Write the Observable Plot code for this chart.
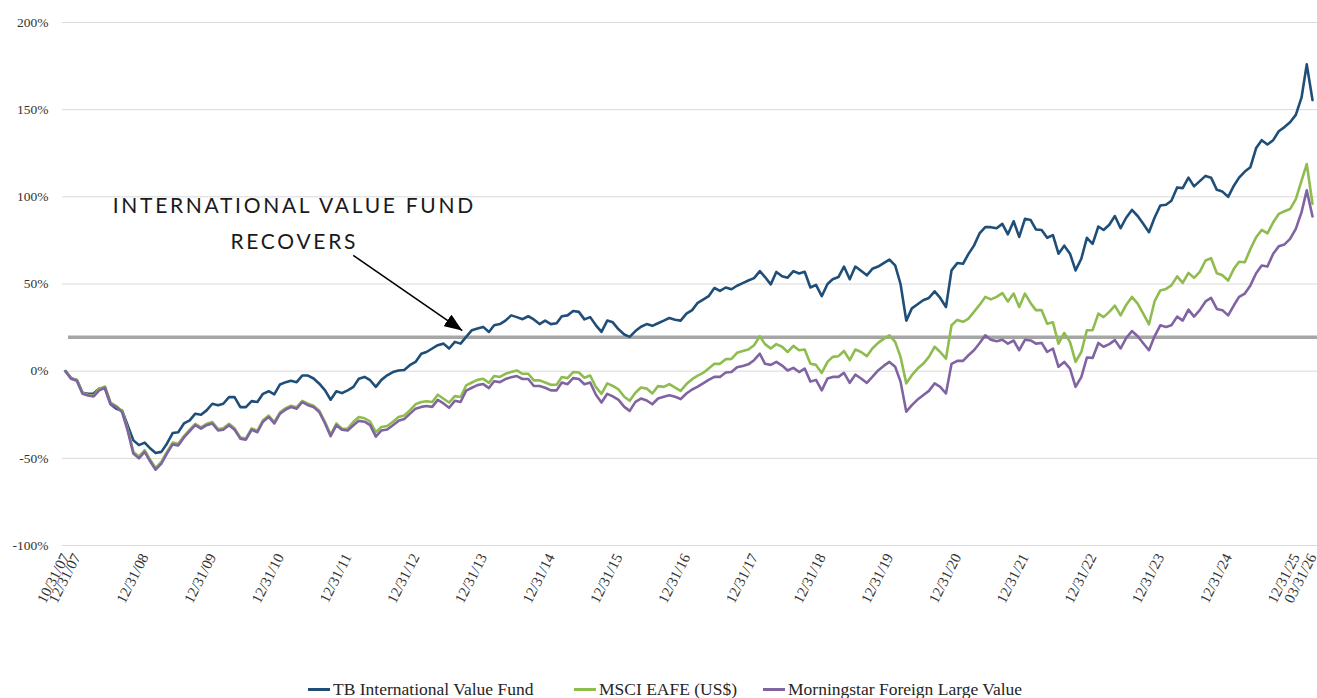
<!DOCTYPE html>
<html>
<head>
<meta charset="utf-8">
<script src="https://cdn.jsdelivr.net/npm/d3@7"></script>
<script src="https://cdn.jsdelivr.net/npm/@observablehq/plot@0.6"></script>
<style>
  body { margin: 0; background: #ffffff; }
  #wrap { position: relative; width: 1317px; height: 698px; overflow: hidden; }
  #legend { position: absolute; left: 0; top: 679px; width: 1317px; height: 20px;
            font-family: "Liberation Serif", serif; font-size: 17.5px; color: #262626; }
  #legend .item { position: absolute; top: 0; height: 20px; display: flex; align-items: center; white-space: nowrap; }
  #legend .sw { width: 22px; height: 3px; margin-right: 3px; }
  g[aria-label="text"] text { letter-spacing: 2.7px; }
  g[aria-label="x-axis tick label"] { font-size: 15px; }
  g[aria-label="y-axis tick label"] { font-size: 13.5px; }
</style>
</head>
<body>
<div id="wrap">
  <div id="chart"></div>
  <div id="legend"></div>
</div>
<script>
// ---------------- DATA ----------------
const firstMonthEnd = "2007-10-31";   // first month-end in the series (monthly data)
const tickLabels = ["10/31/07","12/31/07","12/31/08","12/31/09","12/31/10","12/31/11","12/31/12",
  "12/31/13","12/31/14","12/31/15","12/31/16","12/31/17","12/31/18","12/31/19","12/31/20",
  "12/31/21","12/31/22","12/31/23","12/31/24","12/31/25","03/31/26"];
const yTicks = [-100, -50, 0, 50, 100, 150, 200];
const seriesNames = ["TB International Value Fund", "MSCI EAFE (US$)", "Morningstar Foreign Large Value"];
const seriesColors = ["#1f4e79", "#8fbc4f", "#8064a2"];

// cumulative return (%) by month, Oct 2007 .. Mar 2026
const tbFund = [
  0, -4, -5, -12.4, -13, -12.8, -10, -10, -19, -21.5, -22.5, -31,
  -39.7, -42.4, -41, -44.4, -47, -46.3, -41.6, -35.5, -35, -30, -28.2, -24.4,
  -25, -22.5, -18.7, -19.6, -18.7, -14.9, -14.9, -20.6, -20.6, -17.2, -17.7, -13,
  -11.5, -13.3, -7.6, -6.3, -5.5, -6.3, -2.5, -2.5, -4.2, -7.2, -11, -16.4,
  -11.5, -12.6, -11, -9, -4.4, -3.3, -5.2, -9, -5, -2.4, -0.5, 0.4,
  0.7, 3.4, 5.3, 10, 11, 13, 14.9, 15.8, 13, 16.8, 15.8, 19.7,
  23.5, 24.5, 25.4, 22.5, 26.3, 27, 29, 32, 31, 29.8, 31.5, 29.7,
  27, 29, 27, 27.5, 31.5, 32, 34.5, 34, 29.7, 31, 26.3, 22.5,
  29, 28, 24, 21, 19.7, 23, 25.5, 27, 26, 27.5, 29, 30.5,
  29.5, 29, 33, 35, 39, 41, 43, 47.7, 46, 48, 47, 49,
  50.5, 52, 53.4, 57.4, 54, 49.8, 56.9, 54.4, 53.6, 57.4, 56, 57,
  48, 49.5, 43, 50, 52.7, 54, 60, 52.7, 60, 57.6, 55, 58.7,
  60, 62, 64, 60.7, 50, 29, 36, 38.4, 40.7, 42, 45.8, 42,
  36.8, 57.8, 62, 61.6, 67, 72, 79, 82.6, 82.6, 82, 84.5, 78.5,
  86, 77, 87.4, 86.7, 81.3, 81, 76.5, 78, 67.4, 72, 67.4, 57.8,
  64.5, 76.5, 73, 83, 81, 84, 89, 82, 88, 92.5, 89, 84.5,
  79.7, 88, 95, 95.5, 97.8, 105.4, 105, 111, 106, 109, 112, 111,
  104, 103, 100, 106.4, 111, 114.5, 117, 128, 132.5, 130, 132.5, 137.6,
  140, 142.8, 147, 157, 176, 155.5
];
const msciEafe = [
  0, -4, -5, -12.5, -13.5, -14, -10, -8.8, -18, -20, -22.8, -33,
  -46.3, -49, -45.3, -51, -55.5, -52, -46.3, -41, -41.6, -37.2, -33.6, -30.2,
  -32.2, -30.2, -29.2, -33.2, -32.8, -30.2, -32.8, -38, -38.6, -32.8, -34.2, -28.2,
  -25.5, -29.2, -23.6, -21.2, -19.8, -20.7, -17, -18.7, -19.8, -22.7, -29.2, -36.5,
  -30, -33, -33, -29, -26.3, -27, -29, -35, -32, -31.5, -29, -26.3,
  -25.4, -22.5, -19, -17.7, -17.3, -17.7, -13.5, -15.8, -18, -14.3, -14.8, -8.2,
  -6.5, -5, -4.4, -6.7, -2.8, -3.3, -1.5, -0.5, 0.4, -1.5, -1.5, -5.3,
  -5.3, -6.5, -7.8, -7.8, -3.4, -4, -0.5, -0.8, -3.8, -2.5, -9.2, -13,
  -7, -8.5, -10.5, -14.7, -17, -12.4, -9.4, -10, -12.8, -8.6, -9, -7.4,
  -9.4, -11.3, -7.4, -4.6, -2.7, -1, 1.5, 4.2, 4.2, 6.9, 7, 10.5,
  11.5, 12.4, 14.9, 20, 15.5, 13, 15.5, 14, 11, 14.5, 12, 12.4,
  4.2, 3.6, -1, 5.3, 8.2, 8.6, 11.6, 6.3, 12.4, 11, 8.6, 13,
  16.2, 18.5, 20.6, 16.8, 8.2, -7, -2.3, 1.5, 4.2, 8.2, 14, 11,
  7.2, 26.3, 29.4, 28.3, 30, 34, 38, 42.6, 41.2, 42.6, 44.8, 40,
  44.5, 36.8, 44.5, 39, 35, 35, 27.2, 28, 15.8, 21.9, 16.8, 5.3,
  11, 23.5, 23.5, 33, 31, 34, 37.6, 32, 38, 42.6, 38.8, 33,
  26.9, 40, 46.3, 47.2, 49.2, 54.4, 50.6, 56.4, 53.5, 57, 63.5, 64.8,
  56.2, 55, 52, 58.7, 62.8, 62.5, 70, 76.8, 81, 79, 85.4, 90.2,
  91.7, 93, 98.7, 109.3, 118.8, 96
];
const morningstarFLV = [
  0, -4.4, -5.5, -13, -14, -14.5, -11, -9.5, -18.7, -20.6, -23.5, -34,
  -47.3, -50, -46.3, -52, -56.5, -53, -47.3, -42, -42.6, -38, -34.4, -31,
  -33, -31, -30, -34, -33.6, -31, -33.6, -38.7, -39.3, -33.6, -35, -29,
  -26.3, -30, -24.4, -22, -20.6, -21.5, -17.7, -19.5, -20.6, -23.5, -30, -37.3,
  -31, -33.6, -34, -31, -28.5, -29, -31, -37.5, -34, -33.5, -31, -28.5,
  -27.5, -24.5, -21.5, -20.5, -20, -20.5, -16.5, -18.5, -21, -17, -17.7, -11.2,
  -9.5, -8, -7.4, -9.7, -5.8, -6.3, -4.5, -3.5, -2.8, -4.5, -4.5, -8.5,
  -8.5, -9.5, -11, -11, -6.5, -7.5, -4, -4.5, -7.5, -6.5, -13.5, -18,
  -13, -14.5, -16.5, -20.5, -22.8, -17.6, -15.7, -16.8, -19, -15.7, -14.7, -13.8,
  -14.7, -16, -12.8, -10.5, -9, -7, -5, -3.3, -3.3, -0.8, -0.5, 2.3,
  3, 3.9, 6.3, 10, 4.2, 3.6, 5.3, 3.2, 0.4, 1.9, -0.5, 1.5,
  -6, -5, -11, -4.2, -3.3, -3.3, -1, -6.7, -2, -4.2, -6.7, -3.3,
  0.4, 3, 5.3, 2.5, -6, -23.3, -19.5, -16.3, -13.8, -11.3, -7, -9,
  -12.8, 4.2, 5.9, 5.9, 9, 12, 16, 20.6, 18, 17.2, 18, 15.8,
  17.6, 12, 18, 17.6, 15.8, 16.2, 11, 13, 2.5, 5.3, 1.5, -9,
  -3.4, 7.8, 7.6, 16.2, 14, 15.5, 17.8, 13, 19, 23, 20, 16,
  12, 20, 26.3, 25.4, 26.3, 31.3, 29, 35.3, 31.3, 35, 40, 42,
  35.7, 35, 32, 37.8, 42.6, 44.5, 49.2, 56.2, 60.6, 60, 67.4, 71.6,
  72.7, 75.9, 81.6, 91.2, 103.7, 88.8
];
const referenceLevel = 19.5;   // horizontal reference line (%)
const annotationLabel = ["INTERNATIONAL VALUE FUND", "RECOVERS"];
const annotationAt = {date: "2011-03-18", value: 87};
const arrowFrom = {date: "2012-01-30", value: 66.4};
const arrowTo   = {date: "2013-09-09", value: 23.3};

// ---------------- BUILD ----------------
const start = d3.utcParse("%Y-%m-%d")(firstMonthEnd);
const monthEnd = i => new Date(Date.UTC(start.getUTCFullYear(), start.getUTCMonth() + 1 + i, 0));
const seriesValues = [tbFund, msciEafe, morningstarFLV];
const rows = seriesValues.flatMap((vals, s) =>
  vals.map((v, i) => ({series: seriesNames[s], date: monthEnd(i), value: v})));
const parseTick = d3.utcParse("%m/%d/%y");
const tickDates = tickLabels.map(parseTick);
const parseISO = d3.utcParse("%Y-%m-%d");
const nMonths = tbFund.length;

function filledArrow(color, context) {
  const m = d3.create("svg:marker")
    .attr("viewBox", "0 0 10 10")
    .attr("refX", 10).attr("refY", 5)
    .attr("markerUnits", "userSpaceOnUse")
    .attr("markerWidth", 18).attr("markerHeight", 14)
    .attr("preserveAspectRatio", "none")
    .attr("orient", "auto");
  m.append("path").attr("d", "M0,0L10,5L0,10Z").attr("fill", color).attr("stroke", "none");
  return m.node();
}

const chart = Plot.plot({
  width: 1317,
  height: 650,
  marginLeft: 62,
  marginRight: 0,
  marginTop: 22,
  marginBottom: 105,
  style: {fontFamily: "'Liberation Serif', serif", fontSize: "13px", color: "#333333", background: "#ffffff", overflow: "visible"},
  x: {type: "utc", domain: [monthEnd(0), monthEnd(nMonths - 1)], insetLeft: 3, insetRight: 5},
  y: {domain: [yTicks[0], yTicks[yTicks.length - 1]]},
  color: {domain: seriesNames, range: seriesColors},
  marks: [
    Plot.ruleY(yTicks, {stroke: "#d9d9d9", strokeWidth: 1}),
    Plot.ruleY([referenceLevel], {stroke: "#a6a6a6", strokeWidth: 3.5, insetLeft: 6}),
    Plot.axisY(yTicks, {tickFormat: d => d + "%", tickSize: 0, tickPadding: 14, label: null}),
    Plot.axisX(tickDates, {tickFormat: d3.utcFormat("%m/%d/%y"), tickRotate: -63, tickSize: 0, tickPadding: 9, label: null}),
    Plot.line(rows, {x: "date", y: "value", z: "series", stroke: "series", strokeWidth: 2.6, strokeLinejoin: "round"}),
    Plot.text([annotationAt], {x: d => parseISO(d.date), y: "value", text: () => annotationLabel.join("\n"),
      fontFamily: "Lato, 'Open Sans', sans-serif", fontSize: 21, lineHeight: 1.72, lineAnchor: "middle", fill: "#1a1a1a"}),
    Plot.link([{a: arrowFrom, b: arrowTo}], {x1: d => parseISO(d.a.date), y1: d => d.a.value,
      x2: d => parseISO(d.b.date), y2: d => d.b.value, stroke: "#000000", strokeWidth: 1.6, markerEnd: filledArrow})
  ]
});
document.getElementById("chart").appendChild(chart);

// legend below the chart
const legendLeft = [308, 574, 763];
const legend = document.getElementById("legend");
seriesNames.forEach((name, k) => {
  const item = document.createElement("div");
  item.className = "item";
  item.style.left = legendLeft[k] + "px";
  const sw = document.createElement("span");
  sw.className = "sw";
  sw.style.background = seriesColors[k];
  const tx = document.createElement("span");
  tx.textContent = name;
  item.appendChild(sw);
  item.appendChild(tx);
  legend.appendChild(item);
});
</script>
</body>
</html>
